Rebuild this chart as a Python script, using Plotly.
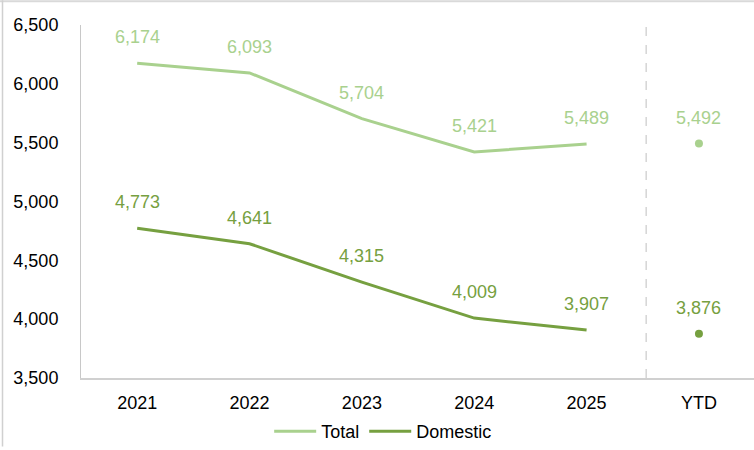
import plotly.graph_objects as go

years = ["2021", "2022", "2023", "2024", "2025"]
ytd_label = "YTD"
total = [6174, 6093, 5704, 5421, 5489]
domestic = [4773, 4641, 4315, 4009, 3907]
total_ytd = 5492
domestic_ytd = 3876
y_ticks = [3500, 4000, 4500, 5000, 5500, 6000, 6500]

c_total = "#A9D18E"
c_dom = "#76A040"
FONT = "Liberation Sans, Arial"

categories = years + [ytd_label]
xs = list(range(len(years)))
x_ytd = len(years)

fig = go.Figure()
fig.add_trace(go.Scatter(x=xs, y=total, mode="lines", name="Total",
                         line=dict(color=c_total, width=3)))
fig.add_trace(go.Scatter(x=xs, y=domestic, mode="lines", name="Domestic",
                         line=dict(color=c_dom, width=3)))
fig.add_trace(go.Scatter(x=[x_ytd], y=[total_ytd], mode="markers", showlegend=False,
                         marker=dict(color=c_total, size=8)))
fig.add_trace(go.Scatter(x=[x_ytd], y=[domestic_ytd], mode="markers", showlegend=False,
                         marker=dict(color=c_dom, size=8)))

def lab(x, y, c):
    fig.add_annotation(x=x, y=y, text=f"{y:,}", showarrow=False, yshift=26,
                       font=dict(color=c, size=18, family=FONT))

for x, y in zip(xs, total):
    lab(x, y, c_total)
for x, y in zip(xs, domestic):
    lab(x, y, c_dom)
lab(x_ytd, total_ytd, c_total)
lab(x_ytd, domestic_ytd, c_dom)

fig.add_shape(type="line", xref="x", yref="paper", x0=4.53, x1=4.53, y0=0, y1=1,
              line=dict(color="#BFBFBF", width=1, dash="dash"))
# outer frame edges
fig.add_shape(type="line", xref="paper", yref="paper", x0=-81/673, x1=1, y0=380/356, y1=380/356,
              line=dict(color="#D9D9D9", width=2))
fig.add_shape(type="line", xref="paper", yref="paper", x0=-78.5/673, x1=-78.5/673,
              y0=-69/356, y1=381/356, line=dict(color="#D0D0D0", width=1.5))

fig.update_layout(
    width=754, height=450,
    margin=dict(l=81, r=0, t=25, b=69),
    paper_bgcolor="white", plot_bgcolor="white",
    font=dict(family=FONT, size=18, color="#000000"),
    showlegend=True,
    legend=dict(orientation="h", x=0.449, xanchor="center", y=-0.152, yanchor="middle",
                font=dict(size=18), itemwidth=42, tracegroupgap=0),
)
fig.update_xaxes(range=[-0.5, 5.49], tickmode="array", tickvals=list(range(len(categories))),
                 ticktext=categories, showgrid=False, zeroline=False, showline=True,
                 linecolor="#D0D0D0", linewidth=1.5, ticks="", ticklabelstandoff=8)
fig.update_yaxes(range=[3500, 6500], tickmode="array", tickvals=y_ticks,
                 ticktext=[f"{v:,}" for v in y_ticks], showgrid=False, zeroline=False,
                 showline=True, linecolor="#C8C8C8", linewidth=1, ticks="", ticklabelstandoff=18)

fig.write_html("out.html", config={"displayModeBar": False},
               post_script="document.body.style.margin='0';document.body.style.overflow='hidden';")
